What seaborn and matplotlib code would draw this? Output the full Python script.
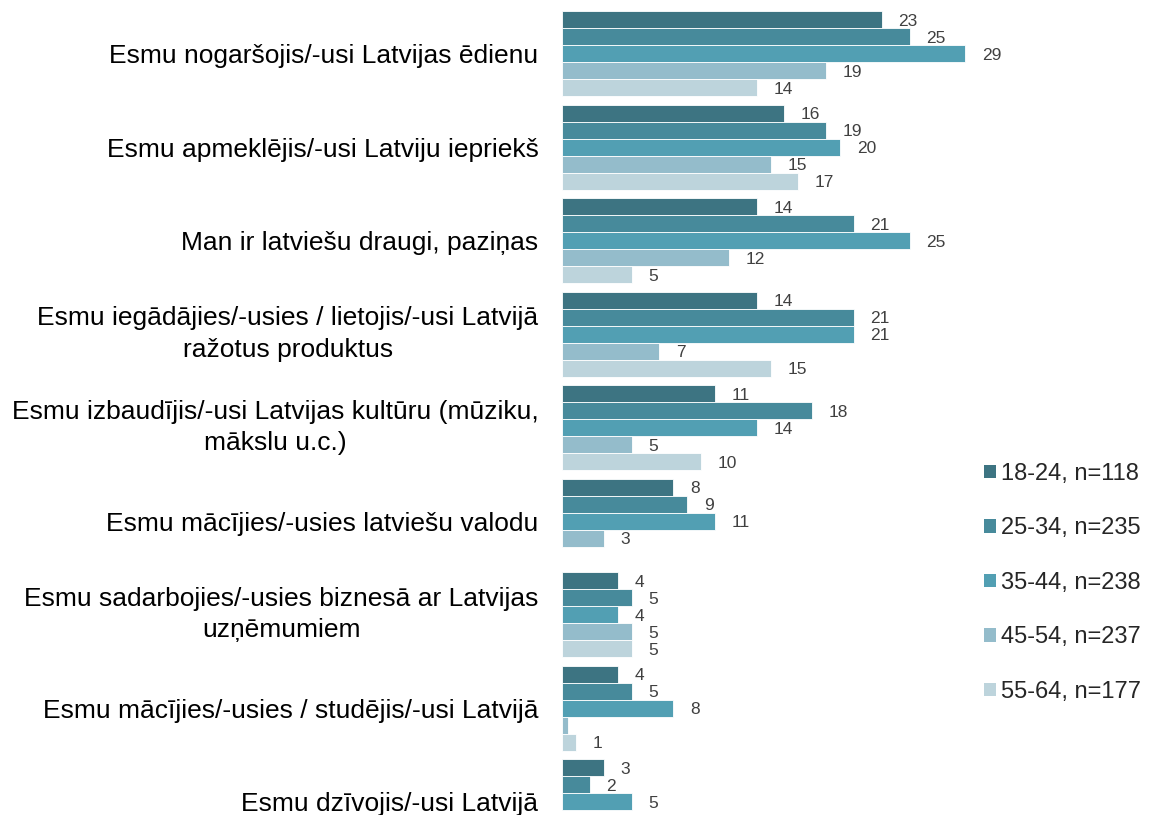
import numpy as np
import pandas as pd
import matplotlib
matplotlib.use("Agg")
import matplotlib.pyplot as plt
from matplotlib.patches import Patch
import seaborn as sns

categories = [
    "Esmu nogaršojis/-usi Latvijas ēdienu",
    "Esmu apmeklējis/-usi Latviju iepriekš",
    "Man ir latviešu draugi, paziņas",
    "Esmu iegādājies/-usies / lietojis/-usi Latvijā\nražotus produktus",
    "Esmu izbaudījis/-usi Latvijas kultūru (mūziku,\nmākslu u.c.)",
    "Esmu mācījies/-usies latviešu valodu",
    "Esmu sadarbojies/-usies biznesā ar Latvijas\nuzņēmumiem",
    "Esmu mācījies/-usies / studējis/-usi Latvijā",
    "Esmu dzīvojis/-usi Latvijā",
]

groups = ["18-24, n=118", "25-34, n=235", "35-44, n=238", "45-54, n=237", "55-64, n=177"]

age_18_24 = [23, 16, 14, 14, 11, 8, 4, 4, 3]
age_25_34 = [25, 19, 21, 21, 18, 9, 5, 5, 2]
age_35_44 = [29, 20, 25, 21, 14, 11, 4, 8, 5]
age_45_54 = [19, 15, 12, 7, 5, 3, 5, 0.4, np.nan]
age_55_64 = [14, 17, 5, 15, 10, np.nan, 5, 1, np.nan]

colors = ["#3d7482", "#478a9b", "#529fb3", "#94bccb", "#bdd4dc"]

series = [age_18_24, age_25_34, age_35_44, age_45_54, age_55_64]
rows = []
for g, vals in zip(groups, series):
    for c, v in zip(categories, vals):
        rows.append({"category": c, "group": g, "value": v})
df = pd.DataFrame(rows).dropna()

sns.set_theme(style="white")
plt.rcParams["font.family"] = ["Liberation Sans", "DejaVu Sans"]

W, H = 1154, 815
fig = plt.figure(figsize=(W / 100, H / 100), dpi=100)

# axes geometry in pixels
x0_px = 562
unit_px = 13.9
xmax = 30
pitch_px = 93.5
top_px = 6.8
ax_w = xmax * unit_px
ax = fig.add_axes([x0_px / W, 0, ax_w / W, (H - top_px) / H])

sns.barplot(
    data=df, y="category", x="value", hue="group",
    order=categories, hue_order=groups, palette=colors, saturation=1,
    orient="h", width=0.91, errorbar=None, ax=ax,
    edgecolor="white", linewidth=0.6, legend=False,
)

ybottom = (H - top_px) / pitch_px - 0.5
ax.set_ylim(ybottom, -0.5)
ax.set_xlim(0, xmax)

for cont in ax.containers:
    anns = ax.bar_label(
        cont, fmt=lambda v: f"{v:.0f}" if v >= 0.5 else "",
        padding=12, fontsize=12.5, color="#404040", clip_on=False,
    )
    for a in anns:
        a.xyann = (12, -1.2)

ax.set_xlabel("")
ax.set_ylabel("")
ax.set_xticks([])
ax.tick_params(axis="y", length=0, pad=17)
for lbl in ax.get_yticklabels():
    lbl.set_fontsize(19)
    lbl.set_multialignment("center")
    lbl.set_linespacing(1.38)
    lbl.set_color("black")
    if "\n" in lbl.get_text():
        lbl.set_verticalalignment("center")
for s in ax.spines.values():
    s.set_visible(False)

handles = [Patch(facecolor=c, edgecolor="none") for c in colors]
fig.legend(
    handles, groups, loc="upper left",
    bbox_to_anchor=(984 / W, 1 - 463 / H),
    frameon=False, fontsize=17,
    handlelength=0.5, handleheight=0.5, handletextpad=0.22,
    labelspacing=1.375, borderaxespad=0, borderpad=0,
)

fig.savefig("out.png", dpi=100)
